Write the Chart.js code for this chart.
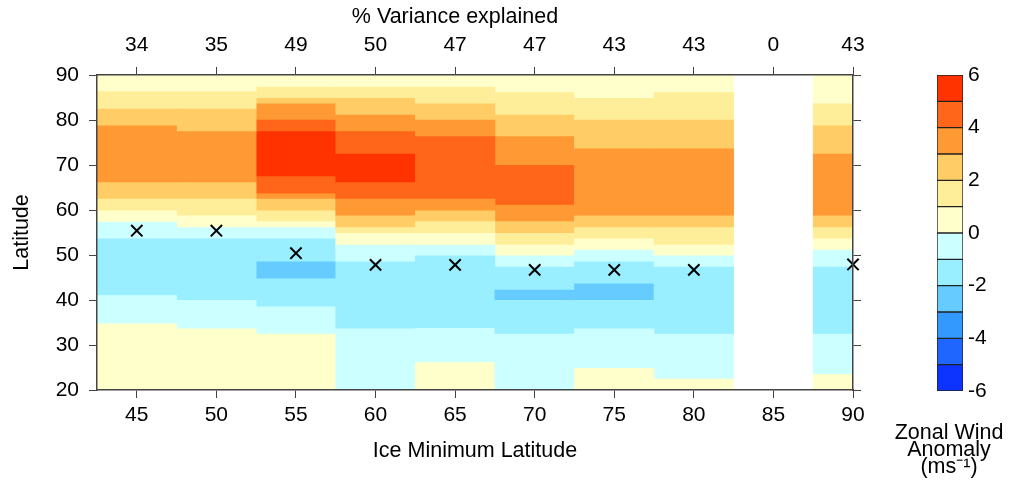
<!DOCTYPE html>
<html>
<head>
<meta charset="utf-8">
<script src="https://cdn.jsdelivr.net/npm/chart.js@4/dist/chart.umd.min.js"></script>
<style>
  html, body { margin: 0; padding: 0; background: #fff; overflow: hidden; }
  #wrap { position: relative; width: 1013px; height: 482px; }
  #mainChart { position: absolute; left: 0; top: 0; }
  #barChart { position: absolute; left: 885px; top: 0; }
</style>
</head>
<body>
<div id="wrap">
  <canvas id="mainChart" width="910" height="482"></canvas>
  <canvas id="barChart" width="128" height="482"></canvas>
</div>
<script>
// Ice minimum latitude columns and % variance explained (top axis)
const iceLat = [45, 50, 55, 60, 65, 70, 75, 80, 85, 90];
const varianceExplained = [34, 35, 49, 50, 47, 47, 43, 43, 0, 43];

// latitude of the x markers (none for 85)
const crossLat = [55.4, 55.4, 50.4, 47.8, 47.8, 46.7, 46.7, 46.7, null, 47.9];

// band edges (latitude, bottom to top) and anomaly level of each band (lower bound, ms-1)
const edges45 = [20, 34.7, 41.0, 53.6, 57.3, 59.8, 62.4, 66.1, 78.7, 82.4, 86.3, 90];
const levels45 = [0, -1, -2, -1, 0, 1, 2, 3, 2, 1, 0];
const edges50 = [20, 33.6, 39.9, 53.6, 56.1, 58.7, 62.4, 66.1, 77.4, 82.4, 86.3, 90];
const levels50 = [0, -1, -2, -1, 0, 1, 2, 3, 2, 1, 0];
const edges55 = [20, 32.4, 38.5, 44.7, 48.5, 53.6, 56.1, 57.4, 59.8, 62.4, 63.6, 67.4, 77.4, 80.0, 83.6, 84.8, 87.3, 90];
const levels55 = [0, -1, -2, -3, -2, -1, 0, 1, 2, 3, 4, 5, 4, 3, 2, 1, 0];
const edges60 = [20, 33.6, 48.5, 52.2, 54.8, 56.1, 58.7, 62.4, 66.1, 72.4, 77.4, 81.1, 84.8, 87.3, 90];
const levels60 = [-1, -2, -1, 0, 1, 2, 3, 4, 5, 4, 3, 2, 1, 0];
const edges65 = [20, 26.1, 33.7, 49.8, 52.2, 54.8, 57.4, 59.8, 62.4, 76.3, 80.0, 83.6, 87.3, 90];
const levels65 = [0, -1, -2, -1, 0, 1, 2, 3, 4, 3, 2, 1, 0];
const edges70 = [20, 32.4, 39.9, 42.2, 47.3, 49.8, 52.2, 54.8, 57.4, 61.1, 69.9, 76.3, 81.1, 86.1, 90];
const levels70 = [-1, -2, -3, -2, -1, 0, 1, 2, 3, 4, 3, 2, 1, 0];
const edges75 = [20, 24.8, 33.6, 39.9, 43.6, 48.5, 51.1, 53.6, 56.1, 58.7, 73.6, 80.0, 84.8, 90];
const levels75 = [0, -1, -2, -3, -2, -1, 0, 1, 2, 3, 2, 1, 0];
const edges80 = [20, 22.4, 32.4, 47.3, 49.8, 52.2, 56.1, 58.7, 73.6, 80.0, 86.1, 90];
const levels80 = [0, -1, -2, -1, 0, 1, 2, 3, 2, 1, 0];
const edges85 = [];
const levels85 = [];
const edges90 = [20, 23.5, 32.4, 47.3, 51.1, 53.6, 56.1, 58.7, 72.4, 78.7, 83.6, 90];
const levels90 = [0, -1, -2, -1, 0, 1, 2, 3, 2, 1, 0];

// colour scale
const levelValues = [-6, -5, -4, -3, -2, -1, 0, 1, 2, 3, 4, 5];
const levelColors = ['#0d33ff', '#1f66ff', '#3399ff', '#66ccff', '#99eeff', '#ccffff',
                     '#ffffcc', '#ffee99', '#ffcc66', '#ff9933', '#ff661a', '#ff3300'];

const allEdges = [edges45, edges50, edges55, edges60, edges65, edges70, edges75, edges80, edges85, edges90];
const allLevels = [levels45, levels50, levels55, levels60, levels65, levels70, levels75, levels80, levels85, levels90];

const colorFor = lv => levelColors[levelValues.indexOf(lv)];

Chart.defaults.font.family = "'Liberation Sans', Arial, sans-serif";
Chart.defaults.font.size = 21;
Chart.defaults.color = '#000';

// one floating-bar dataset per band index
const bandDatasets = [];
const maxBands = Math.max(...allLevels.map(l => l.length));
for (let k = 0; k < maxBands; k++) {
    const data = [];
    const colors = [];
    iceLat.forEach((x, c) => {
        if (allLevels[c].length > k) {
            data.push({ x: x, y: [allEdges[c][k], allEdges[c][k + 1]] });
            colors.push(colorFor(allLevels[c][k]));
        }
    });
    bandDatasets.push({
        type: 'bar',
        data: data,
        backgroundColor: colors,
        borderWidth: 0,
        grouped: false,
        barPercentage: 1,
        categoryPercentage: 1,
        order: 2
    });
}

const crossData = [];
iceLat.forEach((x, i) => {
    if (crossLat[i] !== null) crossData.push({ x: x, y: crossLat[i] });
});

// frame and tick marks drawn above the coloured bands (z: 1)
const frame = '#444';
const tickGrid = { offset: false, drawOnChartArea: false, drawTicks: true, tickLength: 8, color: frame, lineWidth: 1, z: 1 };
const frameBorder = { display: true, color: frame, width: 1.5, z: 1 };
const colTicks = s => { s.ticks = iceLat.map(v => ({ value: v })); };
const titleFont = { size: 21.5 };

new Chart(document.getElementById('mainChart'), {
    data: {
        datasets: bandDatasets.concat([{
            type: 'scatter',
            data: crossData,
            pointStyle: 'crossRot',
            pointRadius: 8,
            borderColor: '#000',
            borderWidth: 2,
            clip: false,
            order: 0
        }])
    },
    options: {
        responsive: false,
        animation: false,
        events: [],
        layout: { padding: 0 },
        plugins: {
            legend: { display: false },
            tooltip: { enabled: false },
            title: {
                display: true,
                text: '% Variance explained',
                font: { size: 21.5, weight: 'normal' },
                padding: { top: 4, bottom: 0 }
            }
        },
        scales: {
            x: {
                type: 'linear', position: 'bottom', min: 42.5, max: 90, offset: false,
                afterBuildTicks: colTicks,
                afterFit: s => { s.height = 92; },
                ticks: { padding: 5, maxRotation: 0, autoSkip: false },
                grid: tickGrid, border: frameBorder,
                title: { display: true, text: 'Ice Minimum Latitude', font: titleFont, padding: { bottom: 18 } }
            },
            x2: {
                type: 'linear', position: 'top', min: 42.5, max: 90, offset: false,
                afterBuildTicks: colTicks,
                afterFit: s => { s.height = 45.2; },
                ticks: {
                    padding: 9, maxRotation: 0, autoSkip: false,
                    callback: v => varianceExplained[iceLat.indexOf(v)]
                },
                grid: tickGrid, border: frameBorder
            },
            y: {
                type: 'linear', position: 'left', min: 20, max: 90,
                afterFit: s => { s.width = 97; },
                ticks: { stepSize: 10, padding: 10 },
                grid: tickGrid, border: frameBorder,
                title: { display: true, text: 'Latitude', font: titleFont, padding: { top: 9 } }
            },
            y2: {
                type: 'linear', position: 'right', min: 20, max: 90,
                afterFit: s => { s.width = 57; },
                ticks: { stepSize: 10, callback: () => '' },
                grid: tickGrid, border: frameBorder
            }
        }
    }
});

// colour bar
new Chart(document.getElementById('barChart'), {
    type: 'bar',
    data: {
        labels: [''],
        datasets: levelValues.map((lv, i) => ({
            data: [[lv, lv + 1]],
            backgroundColor: levelColors[i],
            borderColor: '#222',
            borderWidth: 1,
            borderSkipped: false,
            grouped: false,
            barPercentage: 1,
            categoryPercentage: 1
        }))
    },
    options: {
        responsive: false,
        animation: false,
        events: [],
        layout: { padding: { top: 75 } },
        plugins: {
            legend: { display: false },
            tooltip: { enabled: false },
            title: {
                display: true,
                position: 'bottom',
                text: ['Zonal Wind', 'Anomaly', '(ms\u207B\u00B9)'],
                font: { size: 21.5, weight: 'normal', lineHeight: 0.8 },
                padding: { top: 33.4, bottom: 6 }
            }
        },
        scales: {
            x: { display: false },
            // empty left axis only to reserve space left of the bar
            yl: {
                position: 'left', min: -6, max: 6,
                afterFit: s => { s.width = 52; },
                ticks: { display: false },
                grid: { display: false, drawTicks: false },
                border: { display: false }
            },
            y: {
                position: 'right', min: -6, max: 6,
                afterFit: s => { s.width = 50; },
                ticks: { stepSize: 2, padding: 5 },
                grid: { display: false, drawTicks: false },
                border: { display: false }
            }
        }
    }
});
</script>
</body>
</html>
